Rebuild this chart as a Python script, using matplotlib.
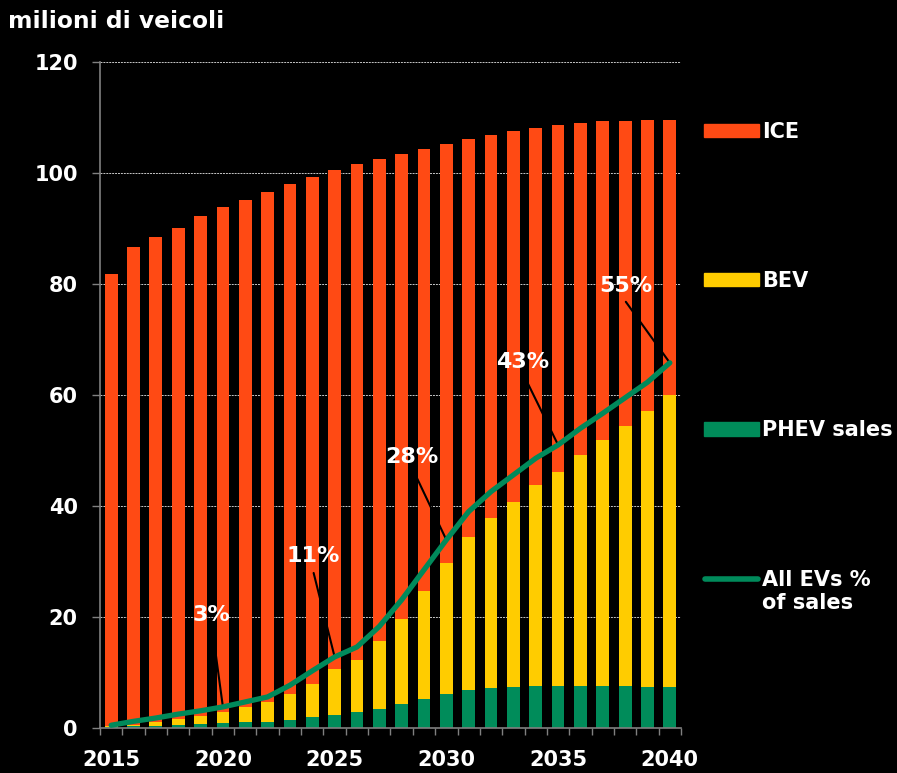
import matplotlib
matplotlib.use("Agg")
import matplotlib.pyplot as plt
import numpy as np
from matplotlib.patches import Patch
from matplotlib.lines import Line2D
from matplotlib.legend_handler import HandlerBase

years = list(range(2015, 2041))
phev = [0.2, 0.3, 0.4, 0.6, 0.7, 0.9, 1.0, 1.1, 1.5, 1.9, 2.4, 2.8, 3.5, 4.4, 5.2, 6.2,
        6.8, 7.2, 7.4, 7.6, 7.6, 7.6, 7.6, 7.5, 7.4, 7.3]
bev = [0.2, 0.3, 0.7, 1.0, 1.5, 2.0, 2.7, 3.5, 4.6, 6.1, 8.2, 9.5, 12.2, 15.3, 19.4, 23.6,
       27.6, 30.6, 33.3, 36.2, 38.6, 41.6, 44.3, 47.0, 49.8, 52.7]
ice = [81.4, 86.1, 87.3, 88.5, 90.1, 90.9, 91.5, 91.9, 91.9, 91.3, 89.9, 89.3, 86.8, 83.7,
       79.7, 75.4, 71.7, 69.0, 66.8, 64.3, 62.4, 59.8, 57.4, 54.9, 52.3, 49.6]
ev_share_line = [0.5, 1.2, 1.8, 2.5, 3.1, 3.8, 4.7, 5.6, 7.7, 10.3, 12.8, 14.6, 18.3, 23.1,
                 28.5, 33.9, 39.0, 42.6, 45.6, 48.6, 51.0, 54.0, 56.7, 59.5, 62.3, 65.8]
share_years = [2020, 2025, 2030, 2035, 2040]
share_labels = ["3%", "11%", "28%", "43%", "55%"]
xtick_years = [2015, 2020, 2025, 2030, 2035, 2040]
yticks = [0, 20, 40, 60, 80, 100, 120]

# label placement offsets (pixels) relative to the line point
text_off = [(-11, 92), (-21, 101), (-34, 83), (-35, 83), (-44, 77)]
lead_off = [(-8, 59), (-21, 84), (-30, 63), (-30, 61), (-44, 61)]

C_ICE = "#FF4A14"
C_BEV = "#FFCC00"
C_PHEV = "#008C5A"
C_LINE = "#008A5B"


class RaisedLineHandler(HandlerBase):
    """Line handle aligned with the first line of a two-line label."""
    def __init__(self, raise_pts=9.5, **kw):
        super().__init__(**kw)
        self.raise_pts = raise_pts

    def create_artists(self, legend, orig_handle, xdescent, ydescent, width,
                       height, fontsize, trans):
        y = -ydescent + height / 2 + self.raise_pts
        ln = Line2D([-xdescent + 1, -xdescent + width - 1], [y, y],
                    color=orig_handle.get_color(), lw=orig_handle.get_linewidth(),
                    solid_capstyle='round')
        ln.set_transform(trans)
        return [ln]


plt.rcParams['font.family'] = ['DejaVu Sans']
fig = plt.figure(figsize=(8.97, 7.73), dpi=100, facecolor="black")
ax = fig.add_axes([100/897, 1-728/773, 581/897, 666/773])
ax.set_facecolor("black")

x = np.array(years)
phev_a = np.array(phev)
bev_a = np.array(bev)
ice_a = np.array(ice)
w = 0.57
ax.bar(x, phev_a, width=w, color=C_PHEV, zorder=2)
ax.bar(x, bev_a, width=w, bottom=phev_a, color=C_BEV, zorder=2)
ax.bar(x, ice_a, width=w, bottom=phev_a + bev_a, color=C_ICE, zorder=2)
ax.plot(x, ev_share_line, color=C_LINE, lw=3.8, zorder=4, solid_capstyle='round')

for yr, lab, toff, loff in zip(share_years, share_labels, text_off, lead_off):
    yv = ev_share_line[years.index(yr)]
    ax.annotate("", xy=(yr, yv), xytext=loff, textcoords='offset pixels',
                arrowprops=dict(arrowstyle='-', color='black', lw=1.5,
                                shrinkA=0, shrinkB=0), zorder=3)
    ax.annotate(lab, xy=(yr, yv), xytext=toff, textcoords='offset pixels',
                ha='center', va='center', color='white', fontsize=16,
                fontweight='bold', zorder=5)

ax.set_xlim(2014.5, 2040.5)
ax.set_ylim(0, 120)
ax.set_yticks(yticks)
ax.set_yticklabels([str(v) for v in yticks])
ax.set_xticks(xtick_years)
ax.set_xticklabels([str(v) for v in xtick_years])
ax.set_xticks(np.arange(2014.5, 2041, 1.0), minor=True)
ax.tick_params(axis='x', which='major', length=0, pad=16, labelsize=15, labelcolor='white')
ax.tick_params(axis='x', which='minor', length=5, color='#808080', width=1)
ax.tick_params(axis='y', length=6, color='#808080', width=1, pad=10,
               labelsize=15, labelcolor='white')
for t in ax.get_xticklabels() + ax.get_yticklabels():
    t.set_fontweight('bold')
for s in ['top', 'right']:
    ax.spines[s].set_visible(False)
for s in ['left', 'bottom']:
    ax.spines[s].set_color('#808080')
    ax.spines[s].set_linewidth(1.2)
ax.yaxis.grid(True, color='#c8c8c8', linestyle=(0, (2, 1)), lw=0.7, zorder=0)
ax.set_axisbelow(True)

fig.text(8/897, 1-21/773, "milioni di veicoli", color='white', fontsize=16.8,
         fontweight='bold', ha='left', va='center')

line_handle = Line2D([0], [0], color=C_LINE, lw=4)
handles = [Patch(color=C_ICE), Patch(color=C_BEV), Patch(color=C_PHEV), line_handle]
labels = ["ICE", "BEV", "PHEV sales", "All EVs %\nof sales"]
leg = fig.legend(handles, labels, loc='upper left',
                 bbox_to_anchor=(704/897, 1-122/773), frameon=False,
                 borderpad=0, borderaxespad=0, handlelength=2.65,
                 handleheight=0.6, handletextpad=0.15, labelspacing=6.2,
                 prop={'size': 15, 'weight': 'bold'},
                 handler_map={line_handle: RaisedLineHandler(raise_pts=9.5)})
for t in leg.get_texts():
    t.set_color('white')

fig.savefig("out.png", dpi=100, facecolor="black")
